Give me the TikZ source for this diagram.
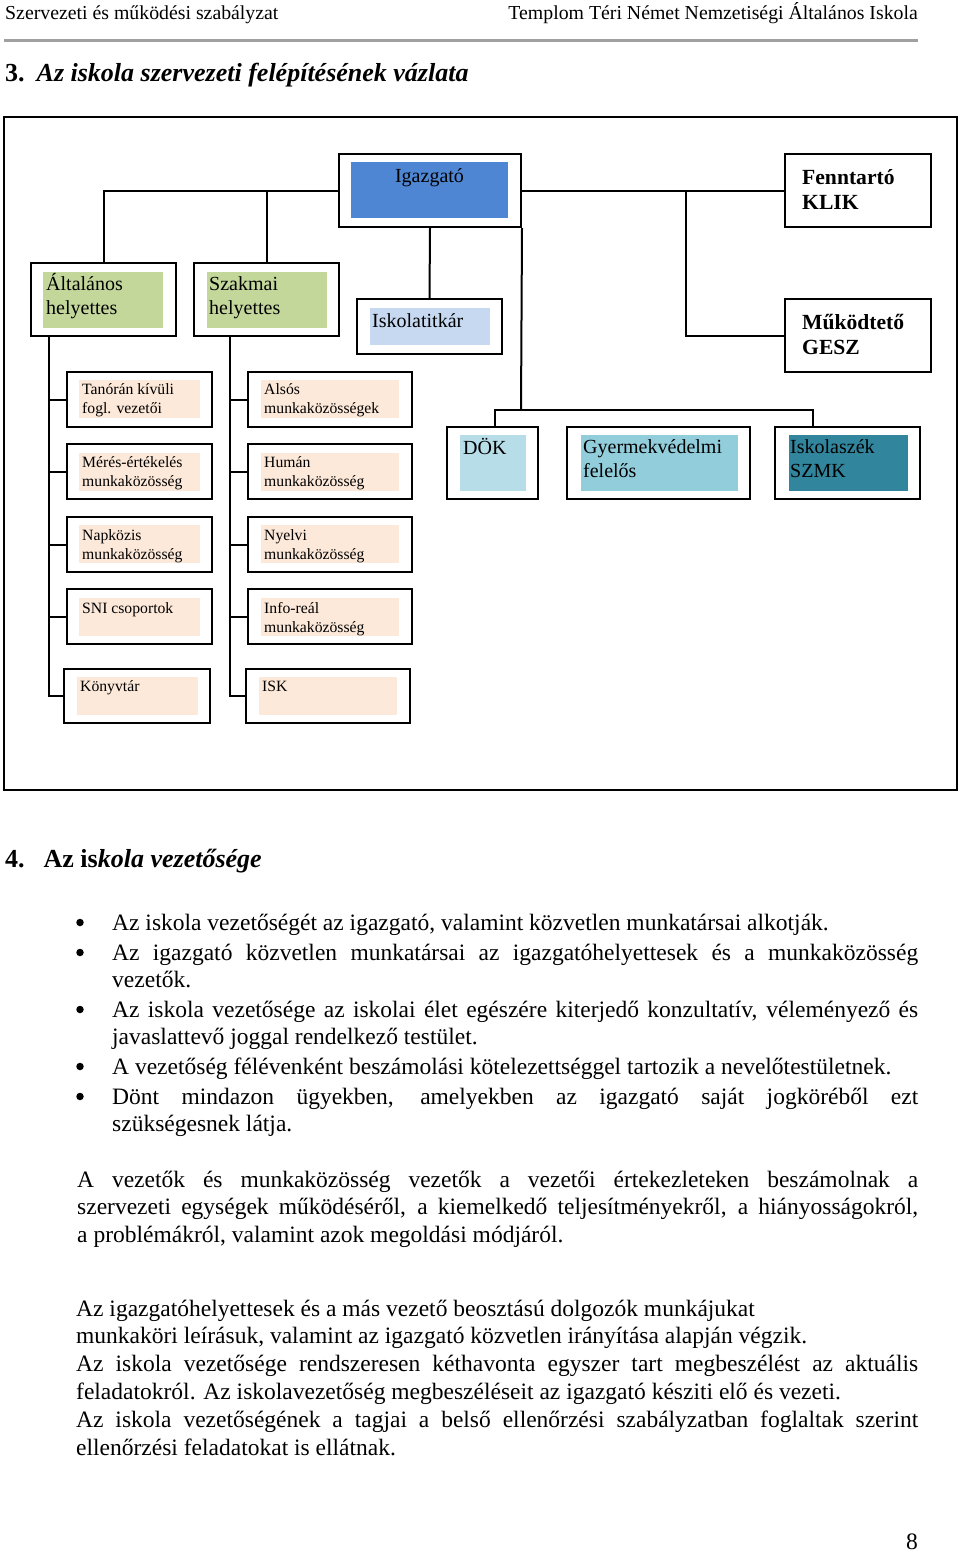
\documentclass[tikz,border=0pt]{standalone}
\usepackage{fontspec}
\setmainfont{Liberation Serif}
\definecolor{igblue}{RGB}{79,134,211}
\definecolor{hgreen}{RGB}{196,215,155}
\definecolor{tblue}{RGB}{198,217,241}
\definecolor{peach}{RGB}{253,233,217}
\definecolor{dokc}{RGB}{183,221,232}
\definecolor{gyc}{RGB}{146,205,220}
\definecolor{iszc}{RGB}{49,133,156}
\definecolor{rulegray}{RGB}{160,160,160}
\newcommand{\mylines}[1]{\begin{tabular}[t]{@{}l@{}}#1\end{tabular}}
\newcommand{\jl}[2][806pt]{\makebox[#1][s]{#2}}
\newcommand{\obx}[5]{\node[obox, minimum width={(#4-#2)*1pt}, minimum height={(#5-#3)*1pt}] (#1) at ({(#2+#4)/2},{(#3+#5)/2}) {};}
\tikzset{
  obox/.style={draw=black, line width=2pt, inner sep=0pt, fill=white, rectangle},
  conn/.style={draw=black, line width=2pt},
  lbl/.style={anchor=base west, inner sep=0pt, font=\fontsize{20}{24.5}\selectfont},
  slbl/.style={anchor=base west, inner sep=0pt, font=\fontsize{15.7}{19.5}\selectfont},
  blbl/.style={anchor=base west, inner sep=0pt, font=\fontsize{21.6}{25}\selectfont\bfseries},
  body/.style={anchor=base west, inner sep=0pt, font=\fontsize{23.5}{27.8}\selectfont},
  headg/.style={anchor=base west, inner sep=0pt, font=\fontsize{26}{30}\selectfont},
  hdr/.style={inner sep=0pt, font=\fontsize{19.8}{23}\selectfont},
  bulletdot/.style={circle, fill=black, inner sep=0pt, minimum size=7.5pt},
}
\begin{document}
\begin{tikzpicture}[x=1pt,y=-1pt]
\useasboundingbox (0,0) rectangle (960,1552);
\fill[white] (0,0) rectangle (960,1552);

% header
\node[hdr, anchor=base west] (hl) at (5,20) {Szervezeti és működési szabályzat};
\node[hdr, anchor=base east] (hr) at (918,20) {Templom Téri Német Nemzetiségi Általános Iskola};
\draw[rulegray, line width=3pt] (4,40.5) -- (918,40.5);

% title
\node[headg] (title) at (5,82) {\textbf{3.}\hspace{12pt}\textbf{\textit{Az iskola szervezeti felépítésének vázlata}}};

% frame
\draw[line width=2pt] (4,117) rectangle (957,790);

% coordinates for connector joints
\coordinate (jb) at (686,190.5);
\coordinate (hub) at (521,410);
\coordinate (h1) at (495,410);
\coordinate (h2) at (813,410);
\coordinate (lt) at (49,336);
\coordinate (rt) at (230,336);

% boxes
\obx{ig}{339}{154}{521}{227}
\obx{fen}{785}{154}{931}{227}
\obx{alt}{31}{263}{176}{336}
\obx{szak}{194}{263}{339}{336}
\obx{titk}{357}{299}{502}{354}
\obx{mukod}{785}{299}{931}{372}
\obx{b1}{67}{372}{212}{427}
\obx{b2}{67}{444}{212}{499}
\obx{b3}{67}{517}{212}{572}
\obx{b4}{67}{589}{212}{644}
\obx{b5}{64}{669}{210}{723}
\obx{c1}{248}{372}{412}{427}
\obx{c2}{248}{444}{412}{499}
\obx{c3}{248}{517}{412}{572}
\obx{c4}{248}{589}{412}{644}
\obx{c5}{246}{669}{410}{723}
\obx{dok}{447}{427}{538}{499}
\obx{gyer}{567}{427}{750}{499}
\obx{isz}{775}{427}{920}{499}

% connectors
\draw[conn] (ig.west) -| (alt.north);
\draw[conn] (szak.north) |- (ig.west);
\draw[conn] (ig.east) -- (fen.west);
\draw[conn] (jb) |- (mukod.west);
\draw[conn] (ig.south) -- (titk.north);
\draw[conn] (ig.south east) -- (hub);
\draw[conn] (dok.north -| h1) -- (h1) -- (h2) -- (isz.north -| h2);
\draw[conn] (lt) |- (b5.west);
\foreach \b in {b1,b2,b3,b4} \draw[conn] (\b.west -| lt) -- (\b.west);
\draw[conn] (rt) |- (c5.west);
\foreach \b in {c1,c2,c3,c4} \draw[conn] (\b.west -| rt) -- (\b.west);

% inner fills
\fill[igblue] (351,162) rectangle (508,218);
\fill[hgreen] (43,272) rectangle (163,328);
\fill[hgreen] (207,272) rectangle (327,328);
\fill[tblue] (370,308) rectangle (490,345);
\fill[peach] (79,380) rectangle (200,418);
\fill[peach] (79,453) rectangle (200,491);
\fill[peach] (79,525) rectangle (200,563);
\fill[peach] (79,598) rectangle (200,636);
\fill[peach] (77,677) rectangle (198,715);
\fill[peach] (261,380) rectangle (399,418);
\fill[peach] (261,453) rectangle (399,491);
\fill[peach] (261,525) rectangle (399,563);
\fill[peach] (261,598) rectangle (399,636);
\fill[peach] (259,677) rectangle (397,715);
\fill[dokc] (460,435) rectangle (526,491);
\fill[gyc] (581,435) rectangle (738,491);
\fill[iszc] (789,435) rectangle (908,491);

% labels
\node[lbl, anchor=base] (tig) at (429.5,182) {Igazgató};
\node[blbl] (tfen) at (802,184) {\mylines{Fenntartó\\KLIK}};
\node[blbl] (tmuk) at (802,329) {\mylines{Működtető\\GESZ}};
\node[lbl] (talt) at (46,290) {\mylines{Általános\\helyettes}};
\node[lbl] (tszak) at (209,290) {\mylines{Szakmai\\helyettes}};
\node[lbl] (ttitk) at (372,327) {Iskolatitkár};
\node[slbl] (tb1) at (82,394) {\mylines{Tanórán kívüli\\fogl. vezetői}};
\node[slbl] (tb2) at (82,467) {\mylines{Mérés-értékelés\\munkaközösség}};
\node[slbl] (tb3) at (82,540) {\mylines{Napközis\\munkaközösség}};
\node[slbl] (tb4) at (82,613) {SNI csoportok};
\node[slbl] (tb5) at (80,691) {Könyvtár};
\node[slbl] (tc1) at (264,394) {\mylines{Alsós\\munkaközösségek}};
\node[slbl] (tc2) at (264,467) {\mylines{Humán\\munkaközösség}};
\node[slbl] (tc3) at (264,540) {\mylines{Nyelvi\\munkaközösség}};
\node[slbl] (tc4) at (264,613) {\mylines{Info-reál\\munkaközösség}};
\node[slbl] (tc5) at (262,691) {ISK};
\node[lbl] (tdok) at (463,454) {DÖK};
\node[lbl] (tgy) at (583,453) {\mylines{Gyermekvédelmi\\felelős}};
\node[lbl] (tisz) at (790,453) {\mylines{Iskolaszék\\SZMK}};

% section 4
\node[headg] (sec4) at (5,867) {\textbf{4.}\hspace{19pt}\textbf{Az is\textit{kola vezetősége}}};

% bullets
\foreach \yy [count=\i] in {930,960,1017,1074,1104}
  \node[bulletdot] (bul\i) at (80,\yy-7.5) {};
\node[body] (pb1) at (112,930) {\parbox[t]{806pt}{Az iskola vezetőségét az igazgató, valamint közvetlen munkatársai alkotják.}};
\node[body] (pb2) at (112,960) {\parbox[t]{806pt}{\jl{Az igazgató közvetlen munkatársai az igazgatóhelyettesek és a munkaközösség}\\vezetők.}};
\node[body] (pb3) at (112,1017) {\parbox[t]{806pt}{\jl{Az iskola vezetősége az iskolai élet egészére kiterjedő konzultatív, véleményező és}\\javaslattevő joggal rendelkező testület.}};
\node[body] (pb4) at (112,1074) {\parbox[t]{806pt}{A vezetőség félévenként beszámolási kötelezettséggel tartozik a nevelőtestületnek.}};
\node[body] (pb5) at (112,1104) {\parbox[t]{806pt}{\jl{Dönt mindazon ügyekben, amelyekben az igazgató saját jogköréből ezt}\\szükségesnek látja.}};

% paragraphs
\node[body] (par1) at (77,1187) {\parbox[t]{841pt}{\jl[841pt]{A vezetők és munkaközösség vezetők a vezetői értekezleteken beszámolnak a}\\\jl[841pt]{szervezeti egységek működéséről, a kiemelkedő teljesítményekről, a hiányosságokról,}\\a problémákról, valamint azok megoldási módjáról.}};
\node[body] (par2) at (76,1316) {\parbox[t]{842pt}{Az igazgatóhelyettesek és a más vezető beosztású dolgozók munkájukat\\munkaköri leírásuk, valamint az igazgató közvetlen irányítása alapján végzik.\\\jl[842pt]{Az iskola vezetősége rendszeresen kéthavonta egyszer tart megbeszélést az aktuális}\\feladatokról. Az iskolavezetőség megbeszéléseit az igazgató késziti elő és vezeti.\\\jl[842pt]{Az iskola vezetőségének a tagjai a belső ellenőrzési szabályzatban foglaltak szerint}\\ellenőrzési feladatokat is ellátnak.}};

% page number
\node[body, anchor=base east] (pnum) at (918,1549) {8};
\end{tikzpicture}
\end{document}
